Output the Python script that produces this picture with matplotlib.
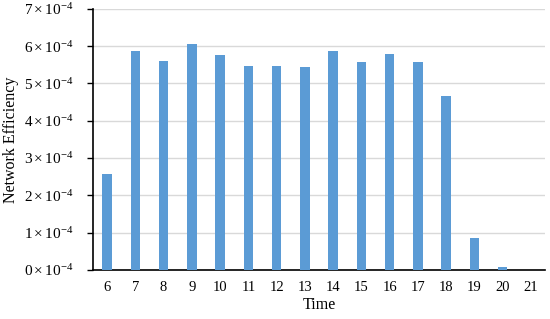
import matplotlib
matplotlib.use("Agg")
import matplotlib.pyplot as plt
from matplotlib.ticker import FuncFormatter, MultipleLocator

times = ["6", "7", "8", "9", "10", "11", "12", "13", "14", "15", "16", "17", "18", "19", "20", "21"]
efficiency = [2.57e-4, 5.88e-4, 5.60e-4, 6.06e-4, 5.76e-4, 5.46e-4, 5.46e-4, 5.45e-4,
              5.88e-4, 5.58e-4, 5.80e-4, 5.57e-4, 4.66e-4, 0.86e-4, 0.07e-4, 0.0]

plt.rcParams['font.family'] = ['Liberation Serif', 'DejaVu Serif']
plt.rcParams['mathtext.fontset'] = 'custom'
plt.rcParams['mathtext.rm'] = 'Liberation Serif'
plt.rcParams['mathtext.it'] = 'Liberation Serif:italic'

fig = plt.figure(figsize=(5.5, 3.19), dpi=100)
ax = fig.add_axes([0.169, 0.154, 0.822, 0.818])

x = list(range(len(times)))
ax.bar(x, efficiency, width=0.33, color="#5B9BD5", zorder=3)

ax.set_xlim(-0.5, len(times) - 0.5)
ax.set_ylim(0, 7e-4)
ax.yaxis.set_major_locator(MultipleLocator(1e-4))
ax.yaxis.set_major_formatter(FuncFormatter(lambda v, p: r"$%d\times10^{-4}$" % round(v * 1e4)))
ax.set_xticks(x)
ax.set_xticklabels(times)

ax.grid(axis='y', color="#D9D9D9", linewidth=1.0, zorder=0)
for s in ['top', 'right']:
    ax.spines[s].set_visible(False)
ax.spines['left'].set_linewidth(1.2)
ax.spines['bottom'].set_linewidth(1.2)
ax.tick_params(axis='x', length=0, labelsize=10.5, pad=8)
ax.tick_params(axis='y', length=4, width=1.0, labelsize=11, pad=10)

ax.set_xlabel("Time", fontsize=11.5, labelpad=2)
ax.set_ylabel("Network Efficiency", fontsize=11.5)
ax.yaxis.set_label_coords(-0.164, 0.5)

fig.savefig("out.png", dpi=100)
